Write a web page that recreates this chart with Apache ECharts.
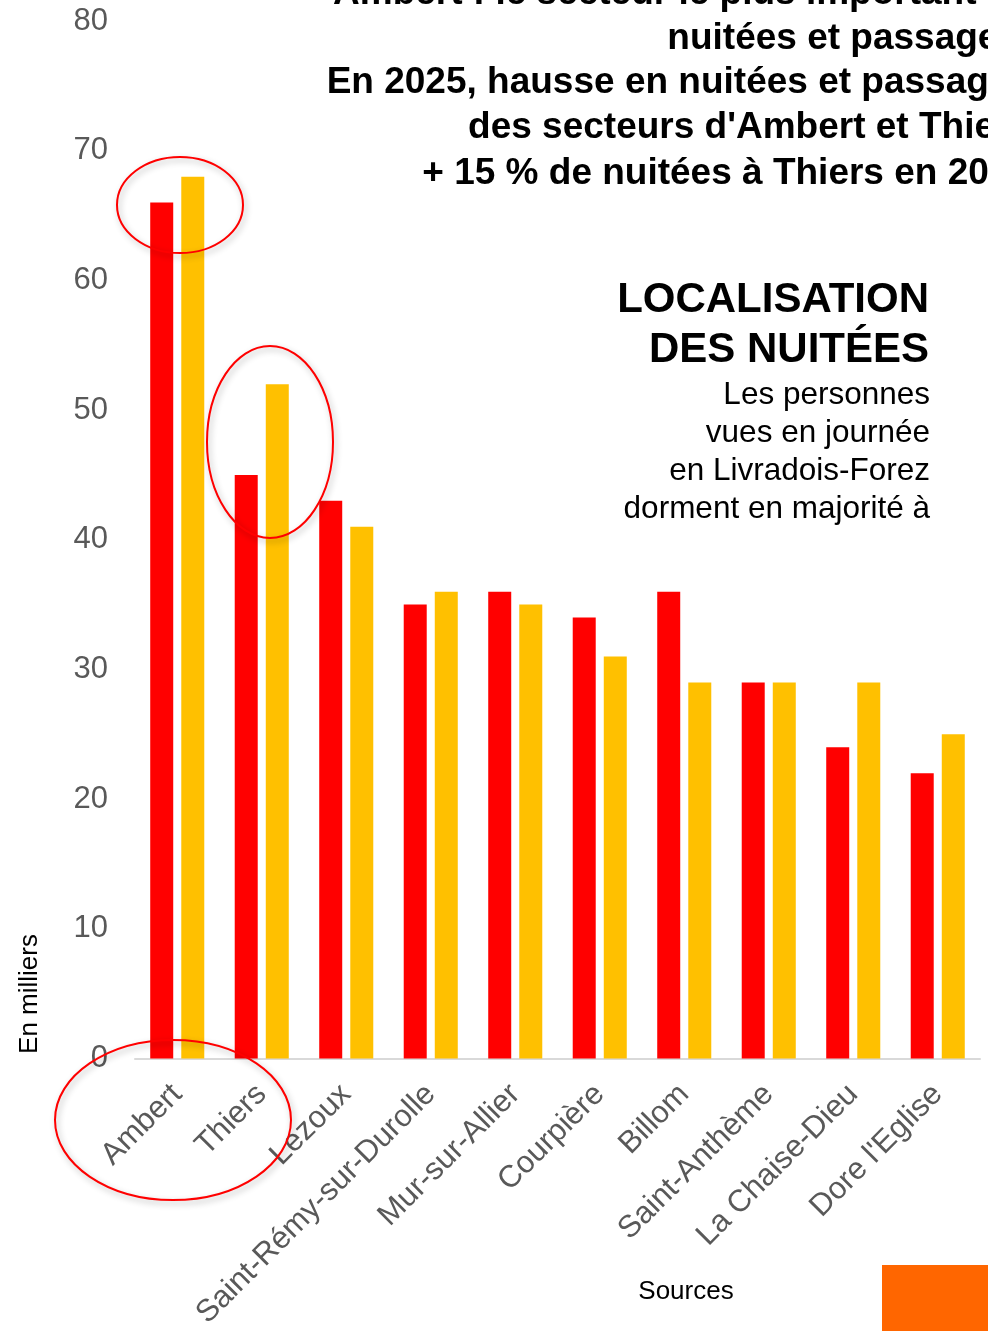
<!DOCTYPE html>
<html>
<head>
<meta charset="utf-8">
<script src="https://cdn.jsdelivr.net/npm/echarts@6/dist/echarts.min.js"></script>
<style>
  html, body { margin: 0; padding: 0; background: #fff; }
  #chart { width: 988px; height: 1331px; }
</style>
</head>
<body>
<div id="chart"></div>
<script>
// secteurs (axe des abscisses)
const secteurs = ['Ambert', 'Thiers', 'Lezoux', 'Saint-Rémy-sur-Durolle', 'Mur-sur-Allier',
  'Courpière', 'Billom', 'Saint-Anthème', 'La Chaise-Dieu', "Dore l'Eglise"]
// nuitées en milliers
const nuitees2024 = [66, 45, 43, 35, 36, 34, 36, 29, 24, 22]
const nuitees2025 = [68, 52, 41, 36, 35, 31, 29, 29, 29, 25]
const yTicks = [0, 10, 20, 30, 40, 50, 60, 70, 80]

const FONT = '"Liberation Sans", Arial, sans-serif'
const chart = echarts.init(document.getElementById('chart'), null, { renderer: 'canvas' })

// entourages rouges (annotations)
const ellipse = (cx, cy, rx, ry) => ({
  type: 'ellipse',
  shape: { cx: cx, cy: cy, rx: rx, ry: ry },
  style: {
    fill: 'none', stroke: '#ff0000', lineWidth: 2,
    shadowBlur: 6, shadowColor: 'rgba(0,0,0,0.3)', shadowOffsetX: 2, shadowOffsetY: 3
  },
  z: 100,
  silent: true
})

const titleLine = (txt, x, y) => ({
  type: 'text',
  x: x, y: y,
  style: {
    text: txt,
    font: 'bold 37px ' + FONT,
    fill: '#000000',
    align: 'right',
    verticalAlign: 'middle'
  }
})

const option = {
  backgroundColor: '#ffffff',
  animation: false,
  textStyle: { fontFamily: FONT },
  grid: { left: 135, right: 8, top: 21, bottom: 272.5, outerBoundsMode: 'none', containLabel: false },
  xAxis: {
    type: 'category',
    data: secteurs,
    axisLine: { lineStyle: { color: '#d9d9d9', width: 2 } },
    axisTick: { show: false },
    axisLabel: { rotate: 45, fontSize: 31, color: '#595959', margin: 31, fontFamily: FONT, interval: 0 }
  },
  yAxis: {
    type: 'value',
    min: yTicks[0],
    max: yTicks[yTicks.length - 1],
    interval: 10,
    axisLine: { show: false },
    axisTick: { show: false },
    splitLine: { show: false },
    axisLabel: { fontSize: 31, color: '#595959', margin: 27, fontFamily: FONT }
  },
  series: [
    {
      name: '2024',
      type: 'bar',
      data: nuitees2024,
      itemStyle: { color: '#ff0000' },
      barWidth: 23,
      barGap: '35%'
    },
    {
      name: '2025',
      type: 'bar',
      data: nuitees2025,
      itemStyle: { color: '#ffc000' },
      barWidth: 23
    }
  ],
  graphic: [
    titleLine('Ambert : le secteur le plus important en', 1030, -6),
    titleLine('nuitées et passages', 1019, 39),
    titleLine('En 2025, hausse en nuitées et passages', 1030, 83),
    titleLine("des secteurs d'Ambert et Thiers", 1030, 128),
    titleLine('+ 15 % de nuitées à Thiers en 2025', 1030, 174),
    {
      type: 'text',
      x: 929, y: 275,
      style: {
        text: 'LOCALISATION\nDES NUITÉES',
        font: 'bold 42px ' + FONT,
        fill: '#000000',
        align: 'right',
        lineHeight: 50
      }
    },
    {
      type: 'text',
      x: 930, y: 376,
      style: {
        text: 'Les personnes\nvues en journée\nen Livradois-Forez\ndorment en majorité à',
        font: '31.5px ' + FONT,
        fill: '#000000',
        align: 'right',
        lineHeight: 38
      }
    },
    {
      type: 'text',
      x: 30, y: 994,
      rotation: Math.PI / 2,
      style: {
        text: 'En milliers',
        font: '26px ' + FONT,
        fill: '#000000',
        align: 'center',
        verticalAlign: 'middle'
      }
    },
    {
      type: 'text',
      x: 686, y: 1292,
      style: {
        text: 'Sources',
        font: '26px ' + FONT,
        fill: '#000000',
        align: 'center',
        verticalAlign: 'middle'
      }
    },
    {
      type: 'rect',
      shape: { x: 882, y: 1265, width: 106, height: 66 },
      style: { fill: '#ff6600' }
    },
    ellipse(180, 205, 63, 48),
    ellipse(270, 442, 63, 96),
    ellipse(173, 1120, 118, 80)
  ]
}

chart.setOption(option)
</script>
</body>
</html>
